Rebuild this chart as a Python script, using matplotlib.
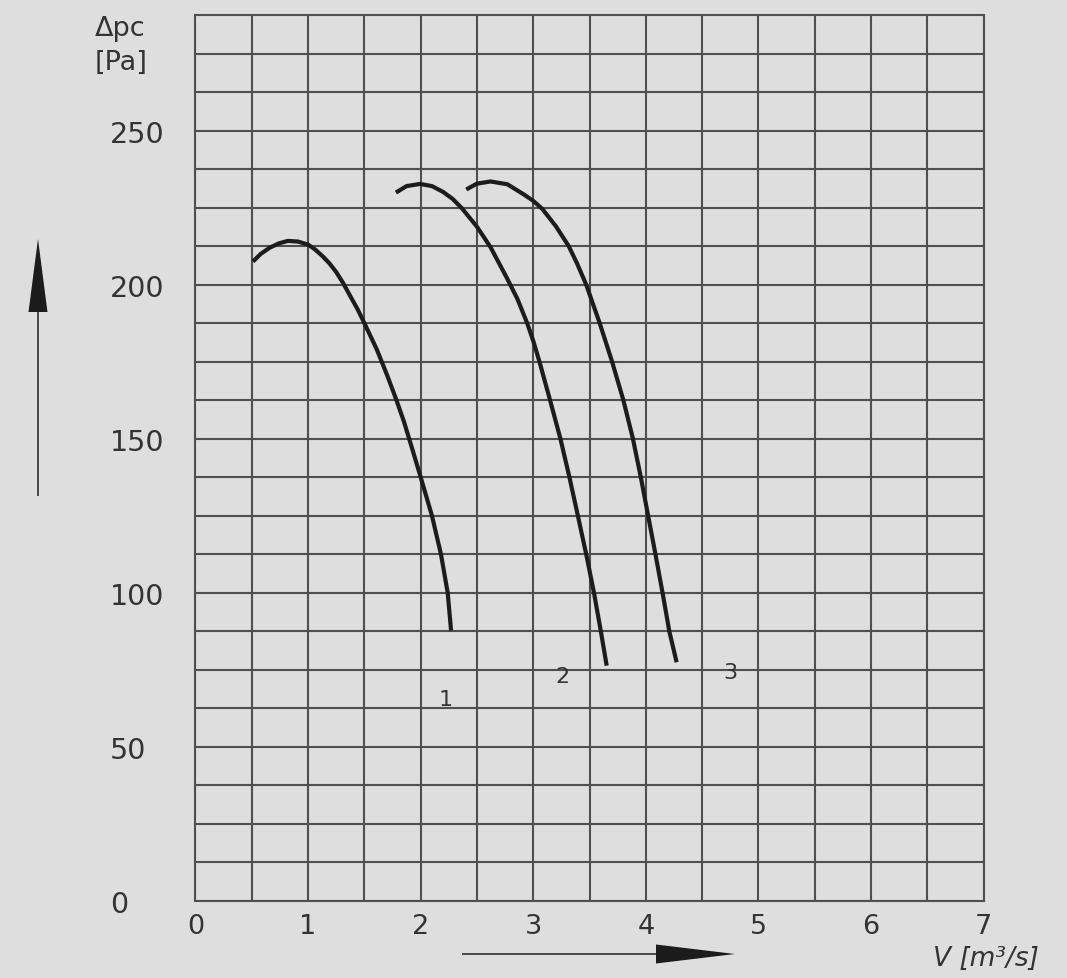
import matplotlib
matplotlib.use("Agg")
import matplotlib.pyplot as plt
from matplotlib.patches import FancyArrow
import numpy as np

# ---- data ----
flow_1 = [0.51, 0.58, 0.66, 0.74, 0.82, 0.91, 1.00, 1.06, 1.13, 1.19, 1.25, 1.31, 1.37, 1.44,
          1.50, 1.61, 1.70, 1.78, 1.85, 1.92, 2.00, 2.10, 2.18, 2.24, 2.27]
dp_1 = [207.5, 210.0, 212.0, 213.4, 214.2, 214.0, 213.0, 211.5, 209.2, 206.9, 204.1, 200.6, 196.6, 192.0,
        187.5, 179.0, 170.8, 163.0, 155.7, 147.3, 137.5, 125.0, 112.5, 100.0, 87.7]

flow_2 = [1.78, 1.875, 1.994, 2.10, 2.20, 2.285, 2.366, 2.50, 2.62, 2.768, 2.86, 2.946, 3.00, 3.055,
          3.149, 3.241, 3.321, 3.396, 3.470, 3.539, 3.600, 3.652]
dp_2 = [229.9, 232.0, 232.7, 232.0, 230.1, 227.8, 224.8, 218.8, 212.2, 202.0, 195.3, 187.5, 181.7, 175.0,
        162.5, 150.0, 137.5, 125.0, 112.5, 100.0, 87.5, 76.3]

flow_3 = [2.405, 2.50, 2.62, 2.77, 2.92, 3.00, 3.08, 3.20, 3.315, 3.39, 3.47, 3.59, 3.70, 3.80,
          3.885, 3.955, 4.02, 4.085, 4.148, 4.208, 4.273]
dp_3 = [230.9, 232.8, 233.5, 232.6, 229.2, 227.2, 224.6, 219.0, 212.5, 206.8, 200.0, 187.5, 175.0, 162.5,
        150.0, 137.5, 125.0, 112.5, 100.0, 87.5, 77.4]

curve_names = ["1", "2", "3"]
name_x = [2.226, 3.255, 4.747]
name_y = [65.5, 73.1, 74.2]

x_ticks = [0, 1, 2, 3, 4, 5, 6, 7]
x_minor = [0.5, 1.5, 2.5, 3.5, 4.5, 5.5, 6.5]
y_ticks = [0, 50, 100, 150, 200, 250]
y_minor = [12.5, 25, 37.5, 62.5, 75, 87.5, 112.5, 125, 137.5, 162.5, 175, 187.5,
           212.5, 225, 237.5, 262.5, 275]
x_max = 7
y_max = 287.5

y_title = ["\u0394pc", "[Pa]"]
x_title = "V [m\u00b3/s]"

# ---- style ----
BG = "#dedede"
GRID = "#4f4f4f"
INK = "#1c1c1c"
TXT = "#333333"

fig = plt.figure(figsize=(10.67, 9.79), dpi=100, facecolor=BG)
ax = fig.add_axes([0.1832, 0.0790, 0.7387, 0.9045])
ax.set_facecolor(BG)
ax.set_xlim(0, x_max)
ax.set_ylim(0, y_max)

ax.set_xticks(x_ticks)
ax.set_xticklabels([str(v) for v in x_ticks])
ax.set_xticks(x_minor, minor=True)
ax.set_yticks(y_ticks)
ax.set_yticklabels([str(v) for v in y_ticks])
ax.set_yticks(y_minor, minor=True)

ax.grid(True, which="both", color=GRID, lw=1.5)
ax.set_axisbelow(True)
for s in ax.spines.values():
    s.set_color(GRID)
    s.set_linewidth(1.5)

ax.tick_params(axis="both", which="both", length=0)
ax.tick_params(axis="x", which="major", pad=9, labelsize=19.5, labelcolor=TXT)
ax.tick_params(axis="y", which="major", pad=61.5, labelsize=20.5, labelcolor=TXT)
for lbl in ax.get_yticklabels():
    lbl.set_horizontalalignment("left")

for fx, dp in [(flow_1, dp_1), (flow_2, dp_2), (flow_3, dp_3)]:
    ax.plot(fx, dp, color=INK, lw=3.0, solid_capstyle="butt", solid_joinstyle="round", zorder=3)

for name, nx, ny in zip(curve_names, name_x, name_y):
    ax.text(nx, ny, name, ha="center", va="center", fontsize=16, color=TXT, zorder=4)

# axis titles
fig.text(95 / 1067, 1 - 36 / 979, y_title[0], ha="left", va="baseline", fontsize=19.5, color=TXT)
fig.text(95 / 1067, 1 - 70 / 979, y_title[1], ha="left", va="baseline", fontsize=19.5, color=TXT)
fig.text(933 / 1067, 1 - 966 / 979, x_title, ha="left", va="baseline", fontsize=19,
         color=TXT, fontstyle="italic")

# direction arrows (figure inches)
varrow = FancyArrow(0.38, (979 - 497) / 100, 0, (497 - 240) / 100, width=0.015,
                    head_width=0.19, head_length=0.73, length_includes_head=True,
                    color=INK, transform=fig.dpi_scale_trans, lw=0)
harrow = FancyArrow(4.62, (979 - 955) / 100, (735 - 462) / 100, 0, width=0.015,
                    head_width=0.19, head_length=0.79, length_includes_head=True,
                    color=INK, transform=fig.dpi_scale_trans, lw=0)
fig.add_artist(varrow)
fig.add_artist(harrow)

fig.savefig("out.png", dpi=100, facecolor=BG)
